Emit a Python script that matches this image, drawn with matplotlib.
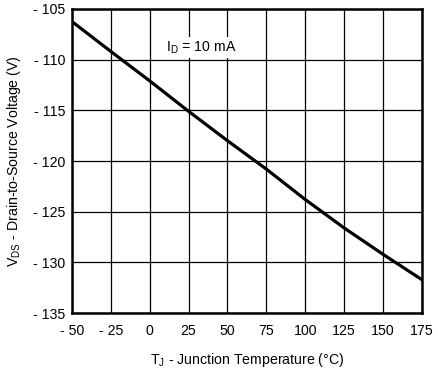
import matplotlib
matplotlib.use("Agg")
import matplotlib.pyplot as plt

plt.rcParams['font.family'] = ['Liberation Sans', 'DejaVu Sans']
plt.rcParams['mathtext.fontset'] = 'custom'
plt.rcParams['mathtext.rm'] = 'Liberation Sans'

# junction temperature (C) and drain-to-source voltage (V)
temp = [-50, -25, 0, 25, 50, 75, 100, 125, 150, 175]
vds = [-106.25, -109.2, -112.1, -115.1, -118.0, -120.8, -123.8, -126.6, -129.2, -131.7]

x_ticks = [-50, -25, 0, 25, 50, 75, 100, 125, 150, 175]
y_ticks = [-135, -130, -125, -120, -115, -110, -105]


def fmt(v):
    return "- %d" % abs(v) if v < 0 else "%d" % v


fig = plt.figure(figsize=(4.39, 3.71), dpi=100)
ax = fig.add_axes([0.164, 0.156, 0.797, 0.82])

ax.plot(temp, vds, color="black", lw=2.3, zorder=4)

ax.set_xlim(-50, 175)
ax.set_ylim(-135, -105)
ax.set_xticks(x_ticks)
ax.set_yticks(y_ticks)
ax.set_xticklabels([fmt(v) for v in x_ticks], fontsize=10.2)
ax.set_yticklabels([fmt(v) for v in y_ticks], fontsize=10.2)
ax.tick_params(axis="x", length=0, pad=8)
ax.tick_params(axis="y", length=0, pad=5)
ax.grid(True, color="black", lw=0.9)
ax.set_axisbelow(True)
for s in ax.spines.values():
    s.set_linewidth(1.8)

ax.text(10.5, -108.8, "I$_\\mathregular{D}$ = 10 mA", fontsize=10.2, va="center", ha="left",
        zorder=3, bbox=dict(facecolor="white", edgecolor="none", pad=1.5))

ax.set_xlabel("T$_\\mathregular{J}$ - Junction Temperature (°C)", fontsize=10.2, labelpad=9)
ax.set_ylabel("V$_\\mathregular{DS}$ - Drain-to-Source Voltage (V)", fontsize=10.2, labelpad=7)

fig.savefig("out.png", dpi=100)
